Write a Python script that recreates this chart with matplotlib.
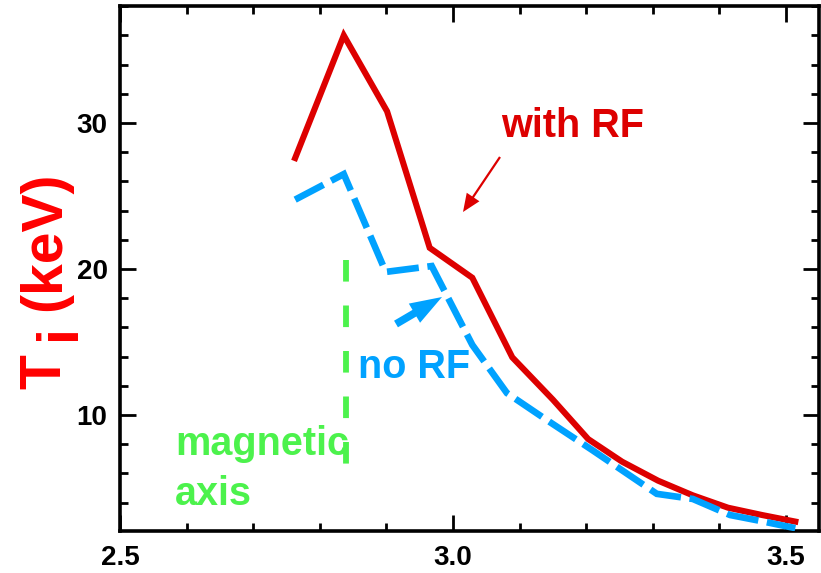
import matplotlib
matplotlib.use("Agg")
import matplotlib.pyplot as plt
from matplotlib.patches import FancyArrowPatch
from matplotlib.ticker import FixedLocator, MultipleLocator

plt.rcParams['font.family'] = ['Liberation Sans', 'DejaVu Sans']
plt.rcParams['font.weight'] = 'bold'

# ---- data ----
r_with_rf = [2.763, 2.836, 2.901, 2.965, 3.029, 3.089, 3.150, 3.203, 3.254, 3.308, 3.360, 3.413, 3.464, 3.514]
ti_with_rf = [27.6, 36.0, 30.8, 21.45, 19.4, 13.95, 11.05, 8.35, 6.8, 5.5, 4.5, 3.65, 3.15, 2.7]

r_no_rf = [2.763, 2.836, 2.899, 2.968, 3.029, 3.081, 3.141, 3.209, 3.306, 3.360, 3.416, 3.461, 3.514]
ti_no_rf = [24.75, 26.5, 19.8, 20.2, 14.8, 11.5, 9.65, 7.6, 4.6, 4.25, 3.15, 2.75, 2.25]

axis_r = 2.839
axis_ti = [20.6, 6.2]

x_major = [2.5, 3.0, 3.5]
x_labels = ['2.5', '3.0', '3.5']
y_major = [10, 20, 30]
y_labels = ['10', '20', '30']

RED = '#DD0000'
BLUE = '#00A2FF'
GREEN = '#4CF24C'

W, H = 821, 573
fig = plt.figure(figsize=(W / 100, H / 100), dpi=100)
ax = fig.add_axes([120 / W, 1 - 531 / H, (819 - 120) / W, (531 - 6) / H])

# pixel -> data helpers (for annotation placement)
def dx(px):
    return 2.5 + (px - 120) / 666.0

def dy(py):
    return 30 - (py - 123) / 14.6

ax.set_xlim(dx(120), dx(819))
ax.set_ylim(dy(531), dy(6))

ax.plot(r_with_rf, ti_with_rf, color=RED, lw=4.4, solid_joinstyle='miter', zorder=3)
ax.plot(r_no_rf, ti_no_rf, color=BLUE, lw=4.8, dashes=(4.8, 1.3),
        dash_joinstyle='miter', zorder=3)
ax.plot([axis_r, axis_r], axis_ti, color=GREEN, lw=4.2, dashes=(3.7, 4.1), zorder=2)

# axes styling
ax.xaxis.set_major_locator(FixedLocator(x_major))
ax.set_xticklabels(x_labels)
ax.xaxis.set_minor_locator(MultipleLocator(0.1))
ax.yaxis.set_major_locator(FixedLocator(y_major))
ax.set_yticklabels(y_labels)
ax.yaxis.set_minor_locator(MultipleLocator(2))
ax.tick_params(which='both', direction='in', top=True, right=True, width=2.0, color='black')
ax.tick_params(which='major', length=11.5, labelsize=20)
ax.tick_params(which='minor', length=6)
ax.tick_params(axis='x', which='major', pad=10)
ax.tick_params(axis='y', which='major', pad=9)
for lab in ax.get_xticklabels() + ax.get_yticklabels():
    lab.set_fontweight('bold')
for s in ax.spines.values():
    s.set_linewidth(2.6)

def ftext(px, py, s, **kw):
    fig.text(px / W, 1 - py / H, s, **kw)

# y label: "T" + lowered "i" + "(keV)"
ylab = dict(rotation=90, rotation_mode='anchor', ha='left', va='baseline',
            fontsize=41, color='#FF0000', fontweight='bold')
ftext(60, 389, 'T', **ylab)
ftext(75, 340, 'i', **ylab)
ftext(60, 311, '(keV)', **ylab)

# annotations
ann = dict(ha='left', va='baseline', fontsize=28.5, fontweight='bold')
ftext(501, 137, 'with RF', color=RED, **ann)
ftext(358, 378, 'no RF', color=BLUE, **ann)
ftext(175, 455, 'magnetic', color=GREEN, **ann)
ftext(175, 505, 'axis', color=GREEN, **ann)

a1 = FancyArrowPatch((dx(500), dy(157)), (dx(463), dy(212)),
                     arrowstyle='simple,head_length=13,head_width=11,tail_width=1.6',
                     mutation_scale=1, lw=0, color=RED, shrinkA=0, shrinkB=0, zorder=4)
ax.add_patch(a1)
a2 = FancyArrowPatch((dx(396), dy(324)), (dx(442), dy(297)),
                     arrowstyle='simple,head_length=23,head_width=16,tail_width=5.5',
                     mutation_scale=1, lw=0, color=BLUE, shrinkA=0, shrinkB=0, zorder=4)
ax.add_patch(a2)

fig.savefig('out.png', dpi=100)
